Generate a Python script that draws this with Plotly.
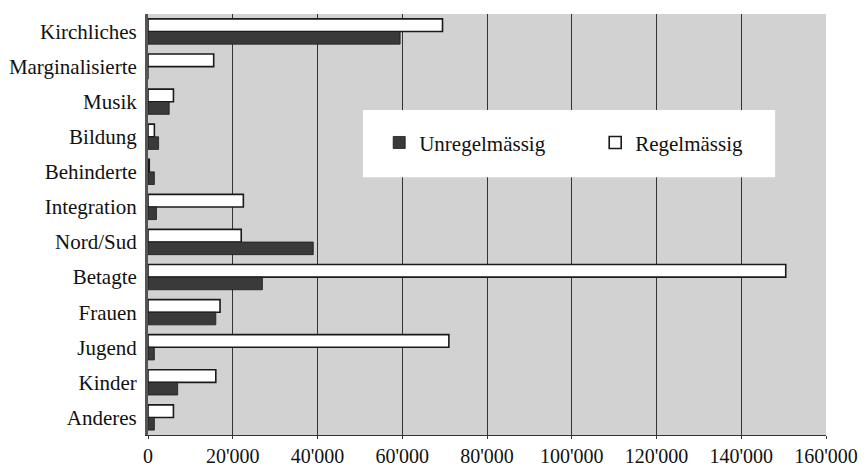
import plotly.graph_objects as go

categories = ["Kirchliches", "Marginalisierte", "Musik", "Bildung", "Behinderte",
              "Integration", "Nord/Sud", "Betagte", "Frauen", "Jugend", "Kinder", "Anderes"]
regelmaessig = [69500, 15500, 6000, 1500, 300, 22500, 22000, 150500, 17000, 71000, 16000, 6000]
unregelmaessig = [59500, 0, 5000, 2500, 1500, 2000, 39000, 27000, 16000, 1500, 7000, 1500]
tick_vals = [0, 20000, 40000, 60000, 80000, 100000, 120000, 140000, 160000]
tick_text = ["0", "20'000", "40'000", "60'000", "80'000", "100'000", "120'000", "140'000", "160'000"]

FONT = "Liberation Serif, Times New Roman, serif"

fig = go.Figure()
fig.add_trace(go.Bar(
    y=categories, x=regelmaessig, orientation="h", name="Regelmässig",
    marker=dict(color="white", line=dict(color="#1a1a1a", width=1.6)),
    legendrank=2,
))
fig.add_trace(go.Bar(
    y=categories, x=unregelmaessig, orientation="h", name="Unregelmässig",
    marker=dict(color="#3a3a3a", line=dict(color="#1a1a1a", width=0.8)),
    legendrank=1,
))

# white box behind the legend
fig.add_shape(type="rect", xref="paper", yref="paper",
              x0=0.317, x1=0.925, y0=0.612, y1=0.772,
              fillcolor="white", line=dict(width=0), layer="above")

fig.update_layout(
    width=860, height=462,
    margin=dict(l=140, r=42, t=6, b=35),
    paper_bgcolor="white",
    plot_bgcolor="#d2d2d2",
    barmode="group",
    bargap=0.28,
    bargroupgap=0.0,
    font=dict(family=FONT, size=21, color="#111111"),
    showlegend=True,
    legend=dict(
        orientation="h",
        x=0.341, xanchor="left",
        y=0.694, yanchor="middle",
        bgcolor="rgba(0,0,0,0)",
        font=dict(family=FONT, size=21, color="#111111"),
        entrywidth=171, entrywidthmode="pixels",
        itemwidth=30,
    ),
    xaxis=dict(
        range=[0, 160000],
        tickvals=tick_vals, ticktext=tick_text,
        showgrid=True, gridcolor="#333333", gridwidth=1,
        showline=True, linecolor="#333333", linewidth=1,
        ticks="outside", ticklen=3, tickcolor="#333333",
        zeroline=False, automargin=False,
        tickfont=dict(family=FONT, size=20, color="#111111"),
    ),
    yaxis=dict(
        categoryorder="array", categoryarray=categories,
        autorange="reversed",
        showgrid=False, automargin=False,
        showline=True, linecolor="#555555", linewidth=3,
        ticks="", ticklabelstandoff=4,
        tickfont=dict(family=FONT, size=21, color="#111111"),
    ),
)

fig.write_html("out.html")
